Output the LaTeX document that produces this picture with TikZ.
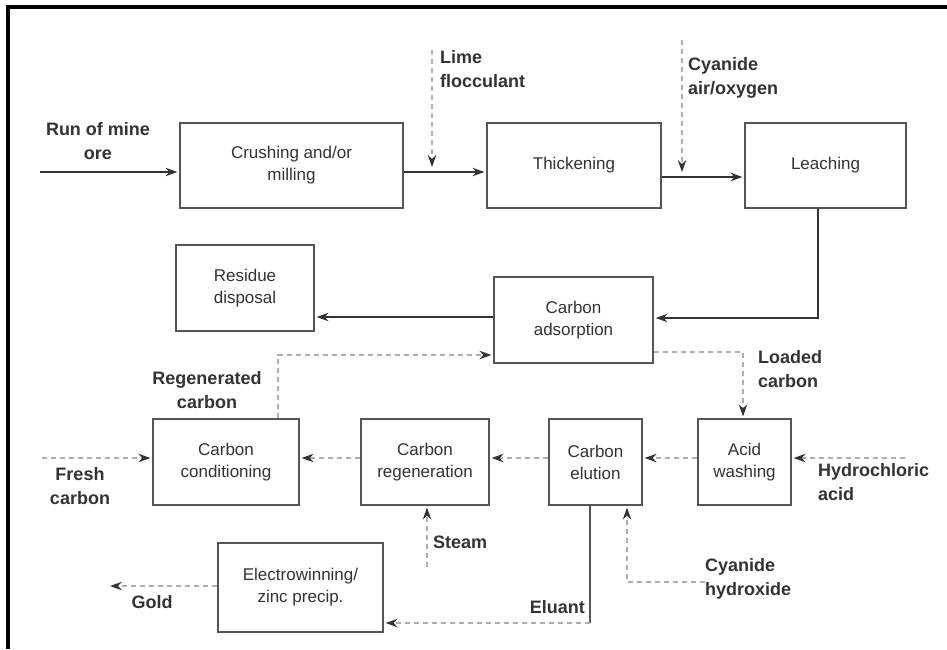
\documentclass[tikz,border=0pt]{standalone}
\usepackage{fontspec}
\setmainfont{Liberation Sans}
\usetikzlibrary{arrows.meta}
\definecolor{ink}{HTML}{333333}
\definecolor{boxln}{HTML}{555555}
\definecolor{dashgray}{HTML}{AEAEAE}
\tikzset{
  box/.style={draw=boxln, line width=1.2pt, text=ink, align=center, font=\fontsize{17}{22}\selectfont, inner sep=0pt},
  lbl/.style={text=ink, font=\bfseries\fontsize{18}{24}\selectfont, inner sep=0pt},
  solidarr/.style={draw=ink, line width=1.2pt, shorten >=2pt, -{Stealth[length=12pt,width=8.5pt,inset=4pt]}},
  dasharr/.style={draw=dashgray, line width=1.6pt, dash pattern=on 5pt off 4pt, shorten >=2pt, -{Stealth[length=12pt,width=8.5pt,inset=4pt,color=ink]}},
  plainln/.style={draw=boxln, line width=1.2pt},
}
\begin{document}
\begin{tikzpicture}[x=1pt,y=-1pt]
\useasboundingbox (0,0) rectangle (947,649);
\fill[white] (0,0) rectangle (947,649);
\draw[line width=4pt, black] (947,7) -- (8,7) -- (8,649);

% boxes
\node[box, minimum width=223pt, minimum height=85pt] (crush) at (291.5,165.5) {Crushing and/or\\milling};
\node[box, minimum width=174pt, minimum height=85pt] (thick) at (574,165.5) {Thickening};
\node[box, minimum width=161pt, minimum height=85pt] (leach) at (825.5,165.5) {Leaching};
\node[box, minimum width=138pt, minimum height=86pt] (resid) at (245,288) {Residue\\disposal};
\node[box, minimum width=159pt, minimum height=86pt] (adsorb) at (573.5,320) {Carbon\\adsorption};
\node[box, minimum width=146pt, minimum height=86pt] (cond) at (226,462) {Carbon\\conditioning};
\node[box, minimum width=128pt, minimum height=86pt] (regen) at (425,462) {Carbon\\regeneration};
\node[box, minimum width=93pt, minimum height=86pt] (elut) at (595.5,462) {Carbon\\elution};
\node[box, minimum width=93pt, minimum height=86pt] (acid) at (744.5,462) {Acid\\washing};
\node[box, minimum width=165pt, minimum height=89pt] (elect) at (300.5,587.5) {Electrowinning/\\zinc precip.};

% labels
\node[lbl, align=center] (lrun) at (98,141) {Run of mine\\ore};
\node[lbl, align=left, anchor=west] (llime) at (440,69) {Lime\\flocculant};
\node[lbl, align=left, anchor=west] (lcyan) at (688,78) {Cyanide\\air/oxygen};
\node[lbl, align=center] (lregen) at (207,390) {Regenerated\\carbon};
\node[lbl, align=center] (lfresh) at (80,486) {Fresh\\carbon};
\node[lbl, anchor=west] (lsteam) at (433,542) {Steam};
\node[lbl] (lgold) at (152,602) {Gold};
\node[lbl, anchor=east] (lelu) at (585,607) {Eluant};
\node[lbl, align=left, anchor=west] (lload) at (758,369) {Loaded\\carbon};
\node[lbl, align=left, anchor=west] (lhcl) at (818,482) {Hydrochloric\\acid};
\node[lbl, align=left, anchor=west] (lcyh) at (705,579) {Cyanide\\hydroxide};

% top row
\coordinate (runin) at (40,172);
\draw[solidarr] (runin) -- (runin -| crush.west);
\draw[solidarr] (crush.east |- runin) -- (thick.west |- runin);
\coordinate (r2) at (0,177);
\draw[solidarr] (thick.east |- r2) -- (leach.west |- r2);
\coordinate (limetop) at (432,50);
\coordinate (limeend) at (432,169);
\draw[dasharr] (limetop) -- (limeend);
\coordinate (cyantop) at (682,40);
\coordinate (cyanend) at (682,174);
\draw[dasharr] (cyantop) -- (cyanend);

% leaching to adsorption
\coordinate (lx) at (818,318);
\draw[solidarr] (leach.south -| lx) -- (lx) -- (adsorb.east |- lx);
\coordinate (ry) at (0,317);
\draw[solidarr] (adsorb.west |- ry) -- (resid.east |- ry);

% loaded carbon
\coordinate (lc) at (743,352);
\draw[dasharr] (adsorb.east |- lc) -- (lc) -- (acid.north -| lc);

% carbon circuit
\coordinate (hcl) at (905,458);
\draw[dasharr] (hcl) -- (hcl -| acid.east);
\coordinate (my) at (0,458);
\draw[dasharr] (acid.west |- my) -- (elut.east |- my);
\draw[dasharr] (elut.west |- my) -- (regen.east |- my);
\draw[dasharr] (regen.west |- my) -- (cond.east |- my);
\coordinate (fresh) at (42,458);
\draw[dasharr] (fresh) -- (fresh -| cond.west);
\coordinate (rg) at (278,355);
\draw[dasharr] (cond.north -| rg) -- (rg) -- (adsorb.west |- rg);
\coordinate (steam) at (427,567);
\draw[dasharr] (steam) -- (steam |- regen.south);
\coordinate (cha) at (705,582);
\coordinate (chb) at (627,582);
\draw[dasharr] (cha) -- (chb) -- (chb |- elut.south);
\coordinate (el) at (590,623);
\draw[plainln] (elut.south -| el) -- (el);
\draw[dasharr] (el) -- (el -| elect.east);
\coordinate (gold) at (108,586);
\draw[dasharr] (elect.west |- gold) -- (gold);
\end{tikzpicture}
\end{document}
